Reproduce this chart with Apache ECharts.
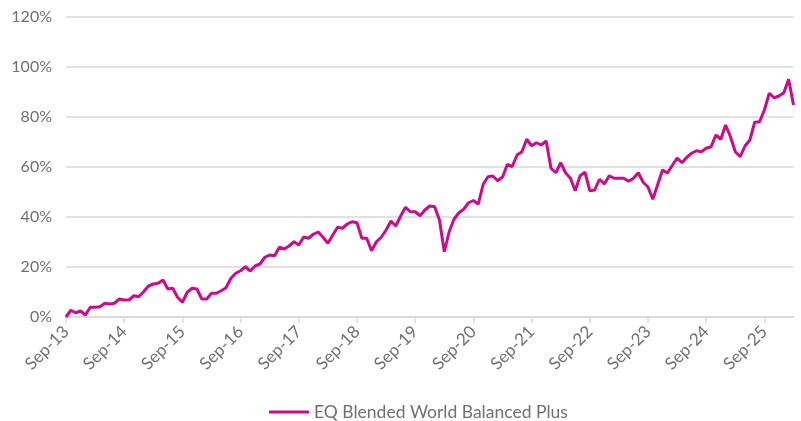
<!DOCTYPE html>
<html>
<head>
<meta charset="utf-8">
<script src="https://cdn.jsdelivr.net/npm/echarts@6/dist/echarts.min.js"></script>
<style>
  html, body { margin: 0; padding: 0; background: #fff; }
  #chart { width: 801px; height: 421px; }
</style>
</head>
<body>
<div id="chart"></div>
<script>
// Monthly cumulative return, Sep-13 through Mar-26
const seriesName = 'EQ Blended World Balanced Plus';
const startYear = 2013;
const startMonth = 8; // September (0-based)
const monthCount = 151;
const yTicks = [0, 20, 40, 60, 80, 100, 120];

const cumulativeReturn = [
  0, 2.7, 1.7, 2.4, 0.8, 3.9, 3.9, 4.1, 5.5, 5.2, 5.5, 7.2,
  6.8, 6.8, 8.5, 8.1, 10.1, 12.4, 13.2, 13.5, 14.8, 11.2, 11.5, 7.9,
  5.9, 9.9, 11.5, 11.2, 7.2, 7.2, 9.5, 9.5, 10.5, 11.7, 15.5, 17.5,
  18.5, 20.1, 18.4, 20.4, 21.2, 23.9, 24.8, 24.5, 27.9, 27.2, 28.4, 30.1,
  28.8, 32.0, 31.5, 33.1, 34.0, 31.9, 29.5, 32.8, 35.9, 35.5, 37.2, 38.1,
  37.7, 31.5, 31.5, 26.5, 30.1, 31.9, 34.8, 38.4, 36.4, 40.4, 43.9, 42.1,
  42.1, 40.5, 42.8, 44.4, 44.1, 38.8, 26.1, 34.1, 39.1, 41.7, 43.1, 45.7,
  46.6, 45.1, 53.0, 56.1, 56.4, 54.5, 56.0, 61.0, 60.2, 64.8, 66.1, 71.1,
  68.5, 69.7, 68.8, 70.4, 59.5, 57.7, 61.7, 57.7, 55.5, 50.5, 56.5, 57.9,
  50.5, 50.8, 55.1, 53.2, 56.5, 55.5, 55.5, 55.5, 54.3, 55.5, 57.7, 53.9,
  52.0, 47.1, 53.0, 58.8, 57.6, 60.6, 63.6, 61.7, 63.9, 65.5, 66.5, 66.1,
  67.5, 68.1, 72.8, 71.1, 76.8, 72.1, 66.1, 64.1, 68.4, 70.8, 77.9, 78.1,
  82.8, 89.5, 87.7, 88.4, 89.7, 95.1, 84.8
];

const monthNames = ['Jan','Feb','Mar','Apr','May','Jun','Jul','Aug','Sep','Oct','Nov','Dec'];
const categories = [];
for (let i = 0; i < monthCount; i++) {
  const t = startMonth + i;
  const y = startYear + Math.floor(t / 12);
  categories.push(monthNames[t % 12] + '-' + String(y % 100).padStart(2, '0'));
}

const gridColor = '#d9d9d9';
const textColor = '#707070';
const lineColor = '#cc0a8c';
const fontFamily = 'Lato, "Open Sans", sans-serif';

const chart = echarts.init(document.getElementById('chart'), null, { renderer: 'canvas' });
chart.setOption({
  animation: false,
  grid: { left: 66, right: 7.5, top: 17, bottom: 104, containLabel: false },
  legend: {
    data: [{ name: seriesName, icon: 'rect' }],
    top: 398,
    left: 264,
    itemWidth: 40,
    itemHeight: 3,
    itemGap: 10,
    textStyle: { color: textColor, fontSize: 17.5, fontFamily: fontFamily }
  },
  xAxis: {
    type: 'category',
    data: categories,
    boundaryGap: false,
    axisLine: { lineStyle: { color: gridColor, width: 1.5 } },
    axisTick: { show: true, interval: 11, length: 6, lineStyle: { color: gridColor, width: 1.5 } },
    axisLabel: {
      interval: 11,
      rotate: 45,
      color: textColor,
      fontSize: 17,
      fontFamily: fontFamily,
      margin: 12
    },
    splitLine: { show: false }
  },
  yAxis: {
    type: 'value',
    min: yTicks[0],
    max: yTicks[yTicks.length - 1],
    interval: 20,
    axisLine: { show: false },
    axisTick: { show: false },
    axisLabel: {
      color: textColor,
      fontSize: 16,
      fontFamily: fontFamily,
      margin: 14,
      formatter: v => v + '%'
    },
    splitLine: { lineStyle: { color: gridColor, width: 1.5 } }
  },
  series: [{
    name: seriesName,
    type: 'line',
    data: cumulativeReturn,
    showSymbol: false,
    symbol: 'none',
    lineStyle: { color: lineColor, width: 3 },
    itemStyle: { color: lineColor },
    z: 3
  }]
});
</script>
</body>
</html>
